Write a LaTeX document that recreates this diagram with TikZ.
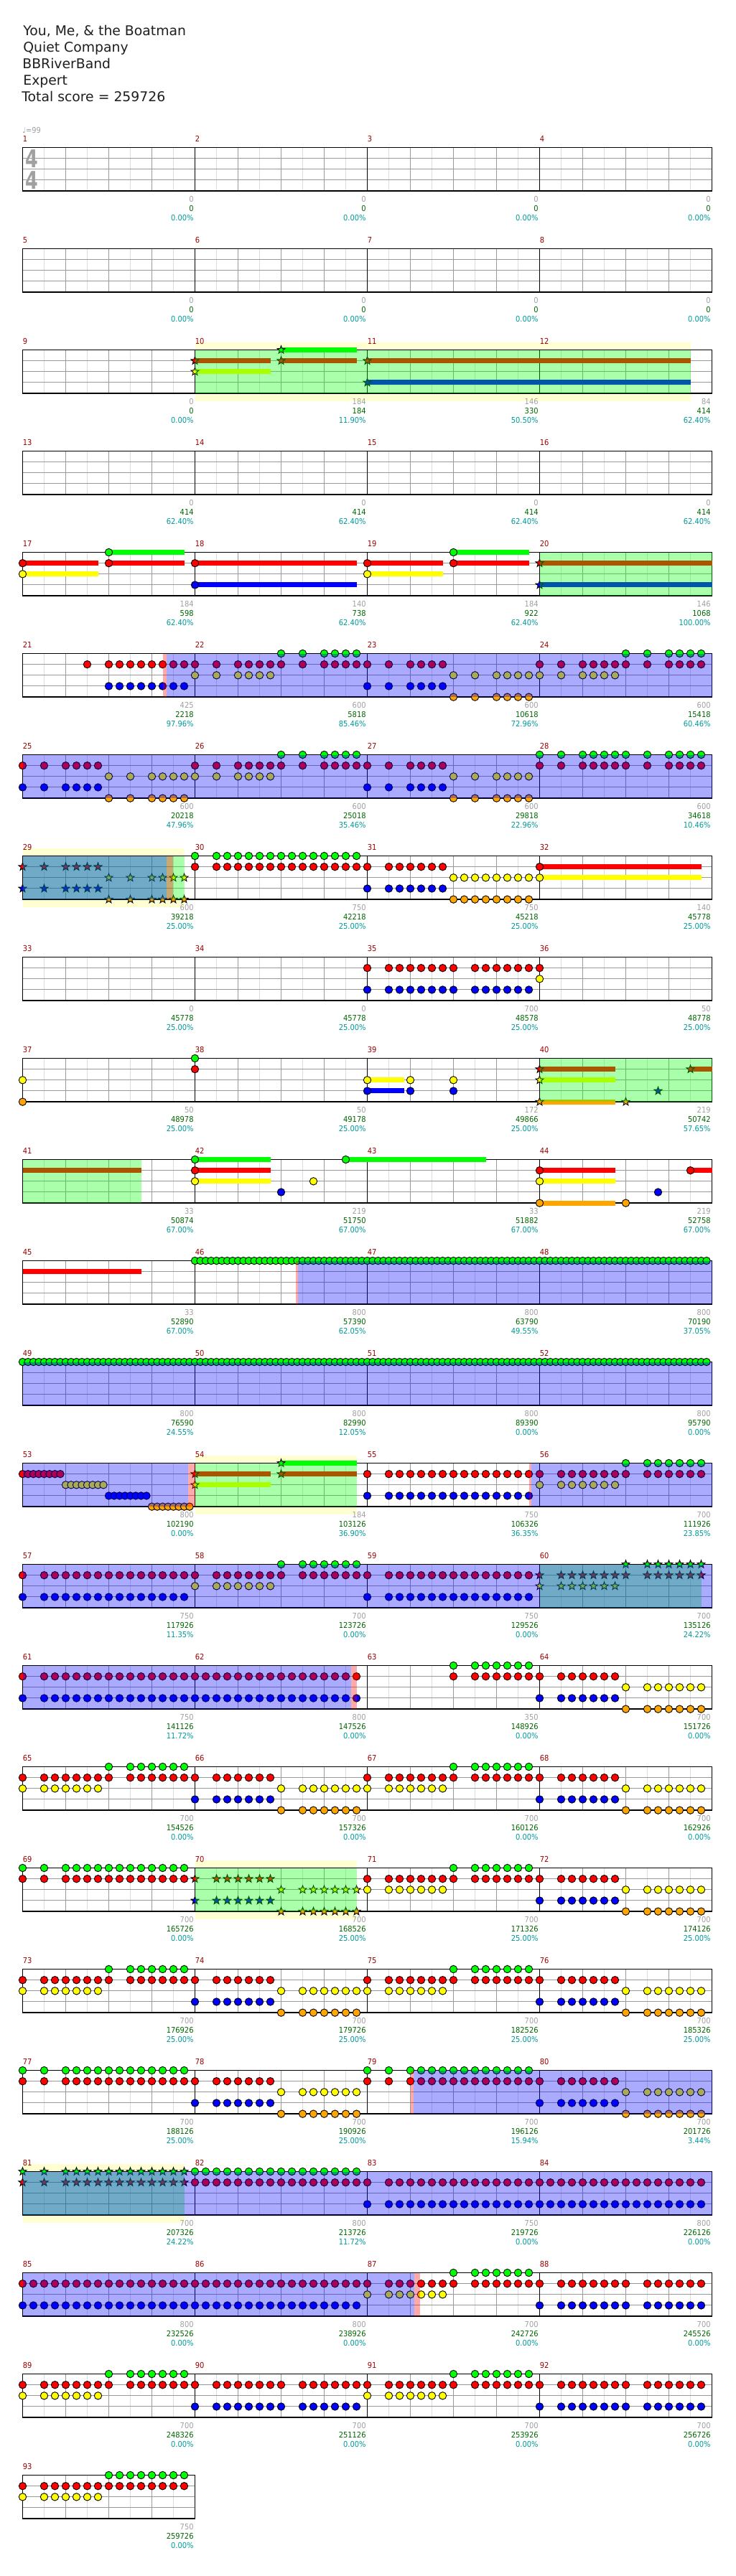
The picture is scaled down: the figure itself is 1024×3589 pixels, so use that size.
\documentclass[tikz,border=0pt]{standalone}
\usepackage{fontspec}
\setmainfont{DejaVu Sans}
\newfontfamily\lblfont[FakeStretch=0.9]{DejaVu Sans}
\newfontfamily\sigfont[FakeStretch=0.75]{DejaVu Sans}

\definecolor{ln0}{HTML}{00FF00}
\definecolor{ln1}{HTML}{FF0000}
\definecolor{ln2}{HTML}{FFFF00}
\definecolor{ln3}{HTML}{0000FF}
\definecolor{ln4}{HTML}{FFA500}
\definecolor{ybgc}{HTML}{FFFFD2}
\definecolor{mnumc}{HTML}{990000}
\definecolor{grayc}{HTML}{A0A0A0}
\definecolor{greenc}{HTML}{006600}
\definecolor{tealc}{HTML}{009999}
\definecolor{eighthc}{HTML}{DDDDDD}
\definecolor{beatc}{HTML}{999999}

% row r: staff top in px
\newcommand\rowtop[1]{\pgfmathsetmacro\T{205.5+141*(#1-1)}}
% staff: row, measures, first measure number
\newcommand\staff[3]{\rowtop{#1}\pgfmathsetmacro\R{31.5+240*#2}%
  \fill[white] (31.5,\T) rectangle (\R,\T+60.6);
  \pgfmathtruncatemacro\ne{8*#2-1}\pgfmathtruncatemacro\nb{4*#2-1}%
  \foreach \k in {1,...,\ne} \draw[eighth] (31.5+30*\k,\T) -- ++(0,60.6);
  \foreach \k in {1,...,\nb} \draw[beat] (31.5+60*\k,\T) -- ++(0,60.6);
  \foreach \k in {1,2,3} \draw[beat] (31.5,\T+15.15*\k) -- (\R,\T+15.15*\k);
  \pgfmathtruncatemacro\nm{#2-1}%
  \ifnum#2>1 \foreach \k in {1,...,\nm} \draw[mbar] (31.5+240*\k,\T) -- ++(0,60.6);\fi
  \draw[border] (31.5,\T) rectangle (\R,\T+60.6);
  \foreach \k in {0,...,\nm}{\pgfmathtruncatemacro\mn{#3+\k}%
    \node[mnum] (m\mn) at (31.5+240*\k,\T-8) {\mn};}}
% notes: row, lane, list of sixteenths
\newcommand\nts[3]{\rowtop{#1}\pgfmathsetmacro\Y{\T+15.15*#2}%
  \foreach \p in {#3} \draw[note,fill=ln#2] (31.5+15*\p,\Y) circle[radius=5.2];}
\newcommand\sts[3]{\rowtop{#1}\pgfmathsetmacro\Y{\T+15.15*#2}%
  \foreach \p in {#3} \draw[note,fill=ln#2] (31.5+15*\p,\Y) +(270:5.8) -- +(306:2.4)
    -- +(342:5.8) -- +(18:2.4) -- +(54:5.8) -- +(90:2.4) -- +(126:5.8) -- +(162:2.4)
    -- +(198:5.8) -- +(234:2.4) -- cycle;}
\newcommand\sus[4]{\rowtop{#1}\pgfmathsetmacro\Y{\T+15.15*#2}%
  \fill[ln#2] (31.5+15*#3,\Y-3.5) rectangle (31.5+15*#4,\Y+3.5);}
% overlays and phrase background, x in px
\newcommand\ov[4]{\rowtop{#2}\fill[#1] (#3,\T) rectangle (#4,\T+60.6);}
\newcommand\ybg[3]{\rowtop{#1}\fill[ybgc] (#2,\T-10.5) rectangle (#3,\T+71.1);}
\newcommand\lbls[2]{\rowtop{#1}%
  \foreach \ga/\gb/\gc [count=\k from 1] in {#2}{%
    \node[sgray] (a#1-\k) at (30+240*\k,\T+76.3) {\ga};
    \node[sgreen] (b#1-\k) at (30+240*\k,\T+89.3) {\gb};
    \node[steal] (c#1-\k) at (30+240*\k,\T+102.3) {\gc};}}

\begin{document}
\begin{tikzpicture}[x=0.5pt,y=-0.5pt,
  eighth/.style={draw=eighthc,line width=0.5pt},
  beat/.style={draw=beatc,line width=0.5pt},
  mbar/.style={draw=black,line width=0.5pt},
  border/.style={draw=black,line width=0.8pt},
  note/.style={draw=black,line width=0.45pt},
  ovg/.style={fill=green,fill opacity=0.333},
  ovb/.style={fill=blue,fill opacity=0.333},
  ovp/.style={fill=red,fill opacity=0.333},
  lbl/.style={anchor=base east,inner sep=0pt,font=\lblfont\fontsize{5.5}{6}\selectfont},
  sgray/.style={lbl,text=grayc},
  sgreen/.style={lbl,text=greenc},
  steal/.style={lbl,text=tealc},
  mnum/.style={anchor=base west,inner sep=0pt,text=mnumc,font=\lblfont\fontsize{5.5}{6}\selectfont},
  title/.style={anchor=base west,inner sep=0pt,text=black!88,font=\fontsize{9.4}{11}\selectfont},
  tsig/.style={anchor=base,inner sep=0pt,text=grayc,font=\sigfont\bfseries\fontsize{17}{17}\selectfont},
]
\useasboundingbox (0,0) rectangle (1024,3589);
\fill[white] (0,0) rectangle (1024,3589);

\node[title] (t1) at (32,49)  {You, Me, \& the Boatman};
\node[title] (t2) at (32,72)  {Quiet Company};
\node[title] (t3) at (31,95)  {BBRiverBand};
\node[title] (t4) at (32,118) {Expert};
\node[title] (t5) at (30,141) {Total score = 259726};

% row 1
\staff{1}{4}{1}
\node[tsig] (ts1) at (44,233) {4};
\node[tsig] (ts2) at (44,263) {4};
\node[mnum,text=grayc] (bpm) at (31,185) {♩=99};
\lbls{1}{0/0/0.00\%,0/0/0.00\%,0/0/0.00\%,0/0/0.00\%}

% row 2
\staff{2}{4}{5}
\lbls{2}{0/0/0.00\%,0/0/0.00\%,0/0/0.00\%,0/0/0.00\%}

% row 3
\ybg{3}{271.5}{961.5}
\staff{3}{4}{9}
\sus{3}{0}{24}{31} \sus{3}{1}{16}{23} \sus{3}{1}{24}{31} \sus{3}{1}{32}{62}
\sus{3}{2}{16}{23} \sus{3}{3}{32}{62}
\sts{3}{0}{24} \sts{3}{1}{16,24,32} \sts{3}{2}{16} \sts{3}{3}{32}
\ov{ovg}{3}{271.5}{961.5}
\lbls{3}{0/0/0.00\%,184/184/11.90\%,146/330/50.50\%,84/414/62.40\%}

% row 4
\staff{4}{4}{13}
\lbls{4}{0/414/62.40\%,0/414/62.40\%,0/414/62.40\%,0/414/62.40\%}

% row 5
\staff{5}{4}{17}
\sus{5}{0}{8}{15} \sus{5}{0}{40}{47}
\sus{5}{1}{0}{7} \sus{5}{1}{8}{15} \sus{5}{1}{16}{31} \sus{5}{1}{32}{39} \sus{5}{1}{40}{47} \sus{5}{1}{48}{64}
\sus{5}{2}{0}{7} \sus{5}{2}{32}{39}
\sus{5}{3}{16}{31} \sus{5}{3}{48}{64}
\nts{5}{0}{8,40} \nts{5}{1}{0,8,16,32,40} \nts{5}{2}{0,32} \nts{5}{3}{16}
\sts{5}{1}{48} \sts{5}{3}{48}
\ov{ovg}{5}{751.5}{991.5}
\lbls{5}{184/598/62.40\%,140/738/62.40\%,184/922/62.40\%,146/1068/100.00\%}

% row 6
\staff{6}{4}{21}
\nts{6}{0}{24,26,28,29,30,31,56,58,60,61,62,63}
\nts{6}{1}{6,8,9,...,16,18,20,21,...,24,26,28,29,...,32,34,36,37,38,39,48,50,52,53,...,56,58,60,61,62,63}
\nts{6}{2}{16,18,20,21,22,23,40,42,44,45,...,48,50,52,53,54,55}
\nts{6}{3}{8,9,...,15,32,34,36,37,38,39}
\nts{6}{4}{40,42,44,45,46,47}
\ov{ovb}{6}{231.5}{991.5} \ov{ovp}{6}{226.5}{231.5}
\lbls{6}{425/2218/97.96\%,600/5818/85.46\%,600/10618/72.96\%,600/15418/60.46\%}

% row 7
\staff{7}{4}{25}
\nts{7}{0}{24,26,28,29,30,31,48,50,52,53,...,56,58,60,61,62,63}
\nts{7}{1}{0,2,4,5,6,7,16,18,20,21,...,24,26,28,29,...,32,34,36,37,38,39,48,50,52,53,...,56,58,60,61,62,63}
\nts{7}{2}{8,10,12,13,...,16,18,20,21,22,23,40,42,44,45,46,47}
\nts{7}{3}{0,2,4,5,6,7,32,34,36,37,38,39}
\nts{7}{4}{8,10,12,13,14,15,40,42,44,45,46,47}
\ov{ovb}{7}{31.5}{991.5}
\lbls{7}{600/20218/47.96\%,600/25018/35.46\%,600/29818/22.96\%,600/34618/10.46\%}

% row 8
\ybg{8}{31.5}{256.5}
\staff{8}{4}{29}
\sus{8}{1}{48}{63} \sus{8}{2}{48}{63}
\sts{8}{1}{0,2,4,5,6,7} \sts{8}{3}{0,2,4,5,6,7}
\sts{8}{2}{8,10,12,13,14,15} \sts{8}{4}{8,10,12,13,14,15}
\nts{8}{0}{16,18,19,...,31}
\nts{8}{1}{16,18,19,...,32,34,35,...,39,48}
\nts{8}{2}{40,41,...,48}
\nts{8}{3}{32,34,35,...,39}
\nts{8}{4}{40,41,...,47}
\ov{ovg}{8}{31.5}{256.5} \ov{ovb}{8}{31.5}{232} \ov{ovp}{8}{232}{241}
\lbls{8}{600/39218/25.00\%,750/42218/25.00\%,750/45218/25.00\%,140/45778/25.00\%}

% row 9
\staff{9}{4}{33}
\nts{9}{1}{32,34,35,...,40,42,43,...,48}
\nts{9}{2}{48}
\nts{9}{3}{32,34,35,...,40,42,43,...,47}
\lbls{9}{0/45778/25.00\%,0/45778/25.00\%,700/48578/25.00\%,50/48778/25.00\%}

% row 10
\staff{10}{4}{37}
\sus{10}{2}{32}{35.4} \sus{10}{3}{32}{35.4}
\sus{10}{1}{48}{55} \sus{10}{1}{62}{64} \sus{10}{2}{48}{55} \sus{10}{4}{48}{55}
\nts{10}{0}{16} \nts{10}{1}{16} \nts{10}{2}{0,32,36,40} \nts{10}{3}{32,36,40} \nts{10}{4}{0}
\sts{10}{1}{48,62} \sts{10}{2}{48} \sts{10}{3}{59} \sts{10}{4}{48,56}
\ov{ovg}{10}{751.5}{991.5}
\lbls{10}{50/48978/25.00\%,50/49178/25.00\%,172/49866/25.00\%,219/50742/57.65\%}

% row 11
\staff{11}{4}{41}
\sus{11}{1}{0}{11}
\sus{11}{0}{16}{23} \sus{11}{0}{30}{43}
\sus{11}{1}{16}{23} \sus{11}{1}{48}{55} \sus{11}{1}{62}{64}
\sus{11}{2}{16}{23} \sus{11}{2}{48}{55} \sus{11}{4}{48}{55}
\nts{11}{0}{16,30} \nts{11}{1}{16,48,62} \nts{11}{2}{16,27,48} \nts{11}{3}{24,59} \nts{11}{4}{48,56}
\ov{ovg}{11}{31.5}{196.5}
\lbls{11}{33/50874/67.00\%,219/51750/67.00\%,33/51882/67.00\%,219/52758/67.00\%}

% row 12
\staff{12}{4}{45}
\sus{12}{1}{0}{11}
\nts{12}{0}{16,16.5,...,63.5}
\ov{ovb}{12}{414.5}{991.5} \ov{ovp}{12}{411.5}{414.5}
\lbls{12}{33/52890/67.00\%,800/57390/62.05\%,800/63790/49.55\%,800/70190/37.05\%}

% row 13
\staff{13}{4}{49}
\nts{13}{0}{0,0.5,...,63.5}
\ov{ovb}{13}{31.5}{991.5}
\lbls{13}{800/76590/24.55\%,800/82990/12.05\%,800/89390/0.00\%,800/95790/0.00\%}

% row 14
\ybg{14}{271.5}{496.5}
\staff{14}{4}{53}
\nts{14}{1}{0,0.5,...,3.5} \nts{14}{2}{4,4.5,...,7.5} \nts{14}{3}{8,8.5,...,11.5} \nts{14}{4}{12,12.5,...,15.5}
\sus{14}{0}{24}{31} \sus{14}{1}{16}{23} \sus{14}{1}{24}{31} \sus{14}{2}{16}{23}
\sts{14}{0}{24} \sts{14}{1}{16,24} \sts{14}{2}{16}
\nts{14}{0}{56,58,59,...,63}
\nts{14}{1}{32,34,35,...,48,50,51,...,56,58,59,...,63}
\nts{14}{2}{48,50,51,...,55}
\nts{14}{3}{32,34,35,...,47}
\ov{ovg}{14}{271.5}{496.5}
\ov{ovb}{14}{31.5}{262} \ov{ovp}{14}{262}{271.5}
\ov{ovb}{14}{740}{991.5} \ov{ovp}{14}{736.5}{740}
\lbls{14}{800/102190/0.00\%,184/103126/36.90\%,750/106326/36.35\%,700/111926/23.85\%}

% row 15
\staff{15}{4}{57}
\nts{15}{0}{24,26,27,...,31}
\nts{15}{1}{0,2,3,...,16,18,19,...,24,26,27,...,32,34,35,...,47}
\nts{15}{2}{16,18,19,...,23}
\nts{15}{3}{0,2,3,...,15,32,34,35,...,47}
\sts{15}{0}{56,58,59,...,63}
\sts{15}{1}{48,50,51,...,56,58,59,...,63}
\sts{15}{2}{48,50,51,...,55}
\ov{ovg}{15}{751.5}{976.5} \ov{ovb}{15}{31.5}{991.5}
\lbls{15}{750/117926/11.35\%,700/123726/0.00\%,750/129526/0.00\%,700/135126/24.22\%}

% row 16
\staff{16}{4}{61}
\nts{16}{0}{40,42,43,...,47}
\nts{16}{1}{0,2,3,...,31,40,42,43,...,48,50,51,...,55}
\nts{16}{2}{56,58,59,...,63}
\nts{16}{3}{0,2,3,...,31,48,50,51,...,55}
\nts{16}{4}{56,58,59,...,63}
\ov{ovb}{16}{31.5}{489} \ov{ovp}{16}{489}{496.5}
\lbls{16}{750/141126/11.72\%,800/147526/0.00\%,350/148926/0.00\%,700/151726/0.00\%}

% row 17
\staff{17}{4}{65}
\nts{17}{0}{8,10,11,...,15,40,42,43,...,47}
\nts{17}{1}{0,2,3,...,8,10,11,...,16,18,19,...,23,32,34,35,...,40,42,43,...,48,50,51,...,55}
\nts{17}{2}{0,2,3,...,7,24,26,27,...,32,34,35,...,39,56,58,59,...,63}
\nts{17}{3}{16,18,19,...,23,48,50,51,...,55}
\nts{17}{4}{24,26,27,...,31,56,58,59,...,63}
\lbls{17}{700/154526/0.00\%,700/157326/0.00\%,700/160126/0.00\%,700/162926/0.00\%}

% row 18
\ybg{18}{271.5}{496.5}
\staff{18}{4}{69}
\nts{18}{0}{0,2,4,5,...,15,40,42,43,...,47}
\nts{18}{1}{0,2,4,5,...,15,32,34,35,...,40,42,43,...,48,50,51,...,55}
\nts{18}{2}{32,34,35,...,39,56,58,59,...,63}
\nts{18}{3}{48,50,51,...,55}
\nts{18}{4}{56,58,59,...,63}
\sts{18}{1}{16,18,19,...,23} \sts{18}{3}{16,18,19,...,23}
\sts{18}{2}{24,26,27,...,31} \sts{18}{4}{24,26,27,...,31}
\ov{ovg}{18}{271.5}{496.5}
\lbls{18}{700/165726/0.00\%,700/168526/25.00\%,700/171326/25.00\%,700/174126/25.00\%}

% row 19
\staff{19}{4}{73}
\nts{19}{0}{8,10,11,...,15,40,42,43,...,47}
\nts{19}{1}{0,2,3,...,8,10,11,...,16,18,19,...,23,32,34,35,...,40,42,43,...,48,50,51,...,55}
\nts{19}{2}{0,2,3,...,7,24,26,27,...,32,34,35,...,39,56,58,59,...,63}
\nts{19}{3}{16,18,19,...,23,48,50,51,...,55}
\nts{19}{4}{24,26,27,...,31,56,58,59,...,63}
\lbls{19}{700/176926/25.00\%,700/179726/25.00\%,700/182526/25.00\%,700/185326/25.00\%}

% row 20
\staff{20}{4}{77}
\nts{20}{0}{0,2,4,5,...,15,32,34,36,37,...,47}
\nts{20}{1}{0,2,4,5,...,16,18,19,...,23,32,34,36,37,...,48,50,51,...,55}
\nts{20}{2}{24,26,27,...,31,56,58,59,...,63}
\nts{20}{3}{16,18,19,...,23,48,50,51,...,55}
\nts{20}{4}{24,26,27,...,31,56,58,59,...,63}
\ov{ovb}{20}{575.5}{991.5} \ov{ovp}{20}{571.5}{575.5}
\lbls{20}{700/188126/25.00\%,700/190926/25.00\%,700/196126/15.94\%,700/201726/3.44\%}

% row 21
\ybg{21}{31.5}{256.5}
\staff{21}{4}{81}
\sts{21}{0}{0,2,4,5,...,15} \sts{21}{1}{0,2,4,5,...,15}
\nts{21}{0}{16,17,...,31}
\nts{21}{1}{16,17,...,32,34,35,...,63}
\nts{21}{3}{32,34,35,...,63}
\ov{ovg}{21}{31.5}{256.5} \ov{ovb}{21}{31.5}{991.5}
\lbls{21}{700/207326/24.22\%,800/213726/11.72\%,750/219726/0.00\%,800/226126/0.00\%}

% row 22
\staff{22}{4}{85}
\nts{22}{0}{40,42,43,...,47}
\nts{22}{1}{0,1,...,32,34,35,...,40,42,43,...,48,50,51,...,56,58,59,...,63}
\nts{22}{2}{32,34,35,...,39}
\nts{22}{3}{0,1,...,31,48,50,51,...,56,58,59,...,63}
\ov{ovb}{22}{31.5}{577} \ov{ovp}{22}{577}{585}
\lbls{22}{800/232526/0.00\%,800/238926/0.00\%,700/242726/0.00\%,700/245526/0.00\%}

% row 23
\staff{23}{4}{89}
\nts{23}{0}{8,10,11,...,15,40,42,43,...,47}
\nts{23}{1}{0,2,3,...,8,10,11,...,16,18,19,...,24,26,27,...,32,34,35,...,40,42,43,...,48,50,51,...,56,58,59,...,63}
\nts{23}{2}{0,2,3,...,7,32,34,35,...,39}
\nts{23}{3}{16,18,19,...,24,26,27,...,31,48,50,51,...,56,58,59,...,63}
\lbls{23}{700/248326/0.00\%,700/251126/0.00\%,700/253926/0.00\%,700/256726/0.00\%}

% row 24
\staff{24}{1}{93}
\nts{24}{0}{8,9,...,15}
\nts{24}{1}{0,2,3,...,15}
\nts{24}{2}{0,2,3,...,7}
\lbls{24}{750/259726/0.00\%}
\end{tikzpicture}
\end{document}
